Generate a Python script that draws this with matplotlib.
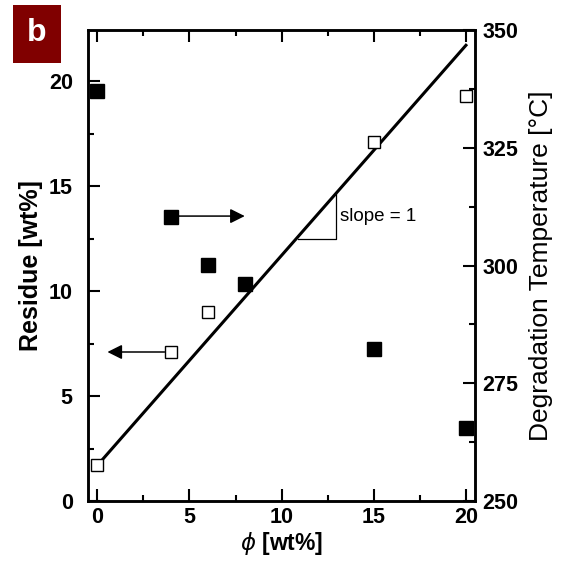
import matplotlib
matplotlib.use("Agg")
import matplotlib.pyplot as plt
from matplotlib.ticker import MultipleLocator
from matplotlib.patches import Rectangle

plt.rcParams['font.family'] = ['Liberation Sans', 'DejaVu Sans']

# residue (open squares, left axis)
phi_res = [0, 4, 6, 15, 20]
residue = [1.7, 7.1, 9.0, 17.1, 19.3]

# degradation temperature (filled squares, right axis)
phi_temp = [0, 4, 6, 8, 15, 20]
temp = [337.1, 310.4, 300.2, 296.0, 282.2, 265.5]

# guide line with slope = 1
line_x = [0, 20]
line_y = [1.7, 21.7]

fig = plt.figure(figsize=(5.61, 5.65), dpi=100)
ax = fig.add_axes([0.157, 0.113, 0.690, 0.834])
ax2 = ax.twinx()

ax.plot(line_x, line_y, color='black', lw=2.2, zorder=3)
ax.plot(phi_res, residue, ls='none', marker='s', ms=8.8, mfc='white', mec='black', mew=1.0, zorder=4)
ax2.plot(phi_temp, temp, ls='none', marker='s', ms=9.4, mfc='black', mec='black', zorder=4)

# slope triangle
ax.plot([10.9, 12.95, 12.95], [12.5, 12.5, 14.6], color='black', lw=0.9)
ax.text(13.15, 13.55, 'slope = 1', fontsize=13.5, va='center', ha='left')

# arrows showing which axis each series belongs to
ax.annotate('', xy=(0.55, 7.1), xytext=(3.65, 7.1),
            arrowprops=dict(arrowstyle='-|>', color='black', lw=1.1, mutation_scale=22, shrinkA=0, shrinkB=0))
ax.annotate('', xy=(8.0, 13.57), xytext=(4.35, 13.57),
            arrowprops=dict(arrowstyle='-|>', color='black', lw=1.1, mutation_scale=22, shrinkA=0, shrinkB=0))

ax.set_xlim(-0.5, 20.5)
ax.set_ylim(0, 22.43)
ax2.set_ylim(250, 350)

ax.xaxis.set_major_locator(MultipleLocator(5))
ax.xaxis.set_minor_locator(MultipleLocator(2.5))
ax.yaxis.set_major_locator(MultipleLocator(5))
ax.yaxis.set_minor_locator(MultipleLocator(2.5))
ax2.yaxis.set_major_locator(MultipleLocator(25))
ax2.yaxis.set_minor_locator(MultipleLocator(12.5))

ax.tick_params(axis='x', which='both', direction='in', top=True, bottom=True, width=1.5)
ax.tick_params(axis='y', which='both', direction='in', left=True, right=False, width=1.5)
ax.tick_params(which='major', length=8.5)
ax.tick_params(which='minor', length=4.5)
ax.tick_params(axis='x', labelsize=15.5, pad=4)
ax.tick_params(axis='y', labelsize=15.5, pad=11)
ax2.tick_params(axis='y', which='both', direction='in', width=1.5, labelsize=15.5, pad=5)
ax2.tick_params(which='major', length=8.5)
ax2.tick_params(which='minor', length=4.5)

for lab in ax.get_xticklabels() + ax.get_yticklabels() + ax2.get_yticklabels():
    lab.set_fontweight('bold')

for a in (ax, ax2):
    for s in a.spines.values():
        s.set_linewidth(1.8)

ax.set_xlabel(r'$\phi$ [wt%]', fontsize=16.5, fontweight='bold', labelpad=2)
ax.set_ylabel('Residue [wt%]', fontsize=18, fontweight='bold', labelpad=4)
ax2.set_ylabel('Degradation Temperature [°C]', fontsize=19, labelpad=8)

# panel letter
fig.patches.append(Rectangle((13 / 561, 1 - 63 / 565), 48 / 561, 58 / 565,
                             transform=fig.transFigure, facecolor='#800000', edgecolor='none'))
fig.text(37 / 561, 1 - 33 / 565, 'b', color='white', fontsize=23, fontweight='bold',
         ha='center', va='center')

fig.savefig('out.png', dpi=100)
